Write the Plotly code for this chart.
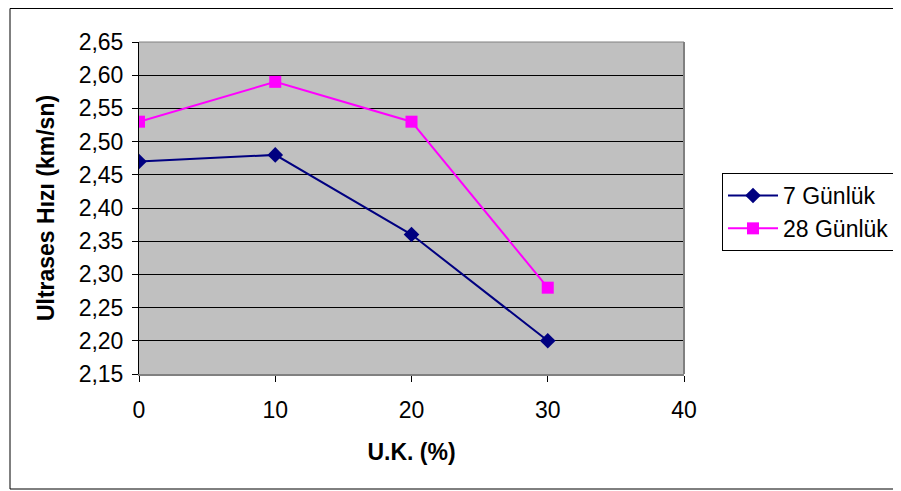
import plotly.graph_objects as go

x_vals = [0, 10, 20, 30]
seven_day = [2.47, 2.48, 2.36, 2.20]
twenty_eight_day = [2.53, 2.59, 2.53, 2.28]
series_names = ["7 Günlük", "28 Günlük"]
y_ticks = [2.15, 2.20, 2.25, 2.30, 2.35, 2.40, 2.45, 2.50, 2.55, 2.60, 2.65]
y_tick_text = [f"{v:.2f}".replace(".", ",") for v in y_ticks]
x_ticks = [0, 10, 20, 30, 40]

FONT = "Liberation Sans, Arial, sans-serif"

fig = go.Figure()
fig.add_trace(go.Scatter(x=x_vals, y=seven_day, name=series_names[0], mode="lines+markers",
                         line=dict(color="#000080", width=2),
                         marker=dict(symbol="diamond", size=12, color="#000080")))
fig.add_trace(go.Scatter(x=x_vals, y=twenty_eight_day, name=series_names[1], mode="lines+markers",
                         line=dict(color="#FF00FF", width=2),
                         marker=dict(symbol="square", size=12, color="#FF00FF")))

# page body has an 8px margin; figure offset accordingly
W, H = 901, 483
L, T = 131, 34
pw, ph = 545, 332
R, B = W - L - pw, H - T - ph

fig.update_layout(
    width=W, height=H,
    margin=dict(l=L, r=R, t=T, b=B, autoexpand=False),
    paper_bgcolor="white", plot_bgcolor="#C0C0C0",
    font=dict(family=FONT, size=23, color="black"),
    showlegend=True,
    legend=dict(x=(714 - L) / pw, y=(T + ph - 165) / ph, xanchor="left", yanchor="top",
                bgcolor="white", bordercolor="black", borderwidth=1,
                font=dict(size=23), itemwidth=50, tracegroupgap=0),
    xaxis=dict(range=[0, 40], tickvals=x_ticks, ticks="outside", ticklen=6, tickcolor="black",
               showgrid=False, zeroline=False, showline=True, linecolor="#808080", linewidth=2,
               ticklabelstandoff=8,
               title=dict(text="<b>U.K. (%)</b>", font=dict(size=23), standoff=22)),
    yaxis=dict(range=[2.15, 2.65], tickvals=y_ticks, ticktext=y_tick_text, ticks="outside",
               ticklen=6, tickcolor="black", showgrid=True, gridcolor="black", gridwidth=1,
               zeroline=False, showline=True, linecolor="black", linewidth=1,
               ticklabelstandoff=4,
               title=dict(text="<b>Ultrases Hızı (km/sn)</b>", font=dict(size=23), standoff=17)),
)

# plot area right/top edges
fig.add_shape(type="line", xref="paper", yref="paper", x0=1, x1=1, y0=0, y1=1,
              line=dict(color="#808080", width=2))
fig.add_shape(type="line", xref="paper", yref="paper", x0=0, x1=1, y0=1, y1=1,
              line=dict(color="#808080", width=1))
# outer chart border (left, top, bottom; right edge lies beyond the window)
bx0, bx1 = (2 - L) / pw, (W - L) / pw
by0, by1 = (T + ph - 481) / ph, (T + ph - 0.5) / ph
for (xa, ya, xb, yb) in [(bx0, by0, bx0, by1), (bx0, by1, bx1, by1), (bx0, by0, bx1, by0)]:
    fig.add_shape(type="line", xref="paper", yref="paper", x0=xa, y0=ya, x1=xb, y1=yb,
                  line=dict(color="black", width=1), layer="below")

fig.write_html("out.html")
